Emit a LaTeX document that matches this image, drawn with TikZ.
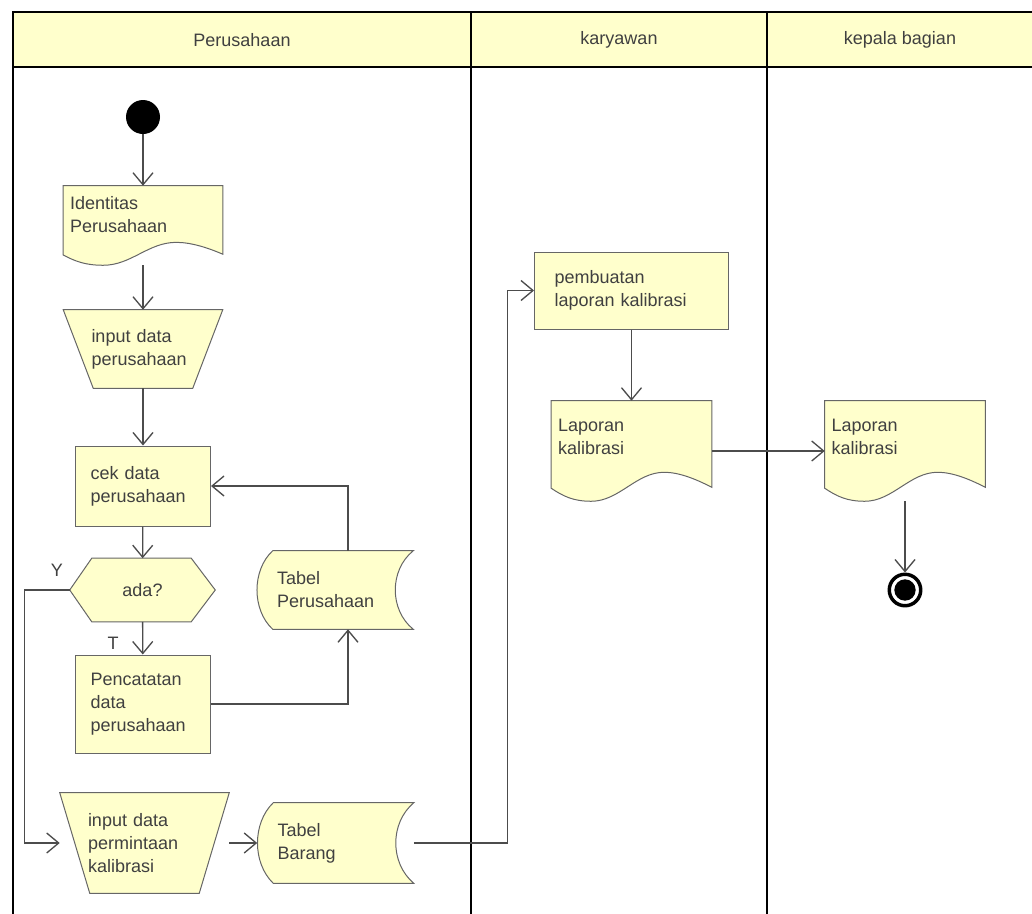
\documentclass[tikz,border=0pt]{standalone}
\usepackage{fontspec}
\setmainfont{Liberation Sans}
\usepackage{xcolor}
\usetikzlibrary{backgrounds, calc, arrows.meta}
\definecolor{nodeyellow}{RGB}{255,255,204}
\definecolor{headyellow}{RGB}{255,255,204}
\newcommand{\nodefont}{\fontsize{13.5pt}{17.25pt}\selectfont}
\tikzstyle{every node}=[font=\nodefont, text=black!75]
\tikzstyle{lane}=[draw=black, line width=1.6pt]
\tikzstyle{box}=[rectangle, draw=black!60, fill=nodeyellow, line width=0.75pt, align=left, inner ysep=0pt]
\tikzstyle{shapebox}=[rectangle, align=left, inner ysep=0pt]
\tikzstyle{outline}=[draw=black!60, fill=nodeyellow, line width=0.75pt]
\tikzstyle{startnode}=[circle, fill=black, minimum size=25.5pt, inner sep=0pt]
\tikzstyle{endnode}=[circle, draw=black, line width=2.6pt, minimum size=23.6pt, inner sep=0pt,
  path picture={\fill[black] (path picture bounding box.center) circle (8pt);}]
\tikzstyle{flow}=[draw=black!70, line width=1pt, -{Straight Barb[length=9pt, width=15pt]}]

\begin{document}
\begin{tikzpicture}[x=0.75pt, y=-0.75pt]
    \useasboundingbox (0,0) rectangle (1032,914);
    \fill[headyellow] (13,12) rectangle (1034,67);
    \draw[lane] (13,919) -- (13,12) -- (1034,12);
    \draw[lane] (13,67) -- (1034,67);
    \draw[lane] (471,12) -- (471,919);
    \draw[lane] (767,12) -- (767,919);
    \node		(hper)	at (242,40)	{Perusahaan};
    \node		(hkar)	at (619,40)	{karyawan};
    \node		(hkep)	at (900,40)	{kepala bagian};

    \node	[startnode]	(start)	at (143,117)	{};
    \node	[shapebox, text width=109.25pt, inner xsep=5pt, text height=17.25pt, text depth=42pt]	(idp)	at (143,225.5)	{Identitas\\Perusahaan};
    \node	[shapebox, text width=77.25pt, inner xsep=21pt, minimum height=58.5pt]	(inp1)	at (143,349)	{input data\\perusahaan};
    \node	[box, text width=78.75pt, inner xsep=11.25pt, minimum height=60pt]	(cek)	at (143,486)	{cek data\\perusahaan};
    \node	[shapebox, align=center, minimum width=108.75pt, minimum height=47.25pt]	(ada)	at (142.5,590)	{ada?};
    \node	[box, text width=78.75pt, inner xsep=11.25pt, minimum height=73.5pt]	(pen)	at (143,704)	{Pencatatan\\data\\perusahaan};
    \node	[shapebox, text width=87pt, inner xsep=15pt, minimum height=58.5pt]	(tp)	at (335,590)	{Tabel\\Perusahaan};
    \node	[shapebox, text width=84.75pt, inner xsep=21pt, minimum height=75pt]	(inp2)	at (144.5,843)	{input data\\permintaan\\kalibrasi};
    \node	[shapebox, text width=87pt, inner xsep=15pt, minimum height=60pt]	(tb)	at (335.5,843)	{Tabel\\Barang};
    \node	(ly)	at (57,570)	{Y};
    \node	(lt)	at (113,643)	{T};

    \node	[box, text width=115.5pt, inner xsep=15pt, minimum height=57.75pt]	(pem)	at (631.5,290.5)	{pembuatan\\laporan kalibrasi};
    \node	[shapebox, text width=110pt, inner xsep=5pt, text height=22.5pt, text depth=52.5pt]	(lap1)	at (631.5,451)	{Laporan\\kalibrasi};
    \node	[shapebox, text width=110pt, inner xsep=5pt, text height=22.5pt, text depth=52.5pt]	(lap2)	at (905,451)	{Laporan\\kalibrasi};
    \node	[endnode]	(end)	at (905,590)	{};

    \begin{scope}[on background layer]
    \foreach \n in {inp1, inp2}
        \draw[outline] (\n.north west) -- (\n.north east) -- ($(\n.south east)+(-30,0)$) -- ($(\n.south west)+(30,0)$) -- cycle;
    \draw[outline] (ada.west) -- ($(ada.north west)+(22,0)$) -- ($(ada.north east)+(-24,0)$) -- (ada.east)
        -- ($(ada.south east)+(-24,0)$) -- ($(ada.south west)+(22,0)$) -- cycle;
    \foreach \n in {tp, tb}
        \draw[outline] ($(\n.north west)+(16,0)$) -- (\n.north east)
            .. controls ($(\n.east)+(-24,-20)$) and ($(\n.east)+(-24,20)$) .. (\n.south east)
            -- ($(\n.south west)+(16,0)$)
            .. controls ($(\n.west)+(-5,20)$) and ($(\n.west)+(-5,-20)$) .. ($(\n.north west)+(16,0)$) -- cycle;
    \foreach \n/\h in {idp/79, lap1/100, lap2/100}
        \draw[outline] (\n.north west) -- (\n.north east) -- ($(\n.south east)+(0,-0.14*\h)$)
            .. controls ($(\n.south west)+(145,-0.22*\h)$) and ($(\n.south west)+(128,-0.29*\h)$) .. ($(\n.south west)+(113,-0.29*\h)$)
            .. controls ($(\n.south west)+(85,-0.29*\h)$) and ($(\n.south west)+(68,0)$) .. ($(\n.south west)+(40,0)$)
            .. controls ($(\n.south west)+(22,0)$) and ($(\n.south west)+(12,-0.05*\h)$) .. ($(\n.south west)+(0,-0.13*\h)$) -- cycle;
    \end{scope}

    \draw[flow] (start) -- (idp);
    \draw[flow] (idp) -- (inp1);
    \draw[flow] (inp1) -- (cek);
    \draw[flow] (cek) -- (ada);
    \draw[flow] (ada) -- (pen);
    \draw[flow] (ada.west) -- ++(-45,0) |- (inp2.west);
    \draw[flow] (pen.east) -| ($(tp.south)+(13,0)$);
    \draw[flow] ($(tp.north)+(13,0)$) |- (cek.east);
    \draw[flow] (inp2) -- (tb);
    \draw[flow] (tb.east) -- ++(94,0) |- (pem.west);
    \draw[flow] (pem) -- (lap1);
    \draw[flow] (lap1) -- (lap2);
    \draw[flow] (lap2) -- (end);
\end{tikzpicture}
\end{document}
